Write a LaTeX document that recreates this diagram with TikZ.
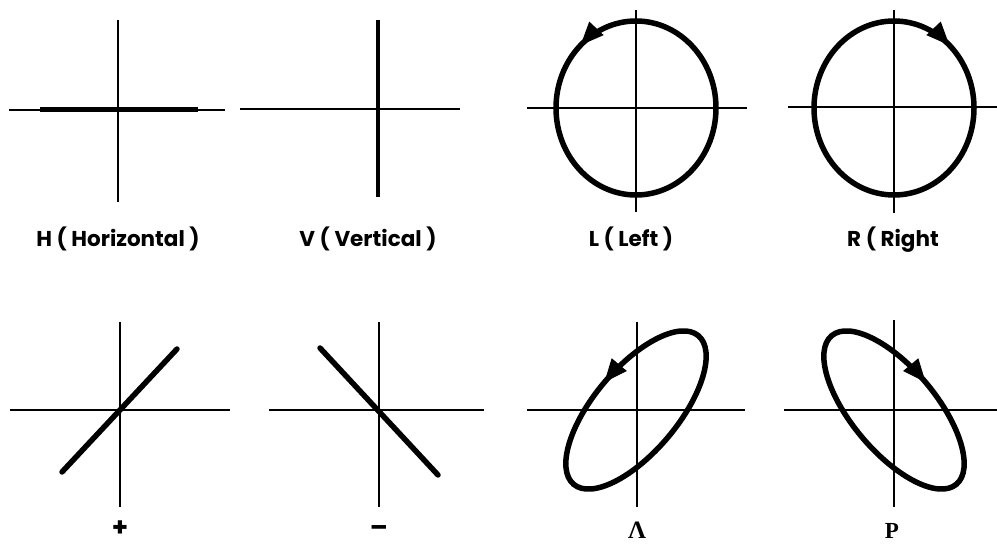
\documentclass[tikz,border=0pt]{standalone}
\usepackage{fontspec}
\setmainfont{Poppins}
\newfontfamily\serifb{Liberation Serif}
\usetikzlibrary{arrows.meta,decorations.markings}
\begin{document}
\begin{tikzpicture}[x=1pt,y=1pt,
  axis/.style={line width=2.3pt},
  heavy/.style={line width=5.5pt},
  lbl/.style={font=\fontsize{21.5}{24}\selectfont\bfseries, anchor=base, inner sep=0pt},
  sign/.style={font=\fontsize{26}{28}\selectfont\bfseries, anchor=base, inner sep=0pt, text depth=0pt},
  glyph/.style={font=\fontsize{23}{25}\selectfont\serifb\bfseries, anchor=base, inner sep=0pt, text depth=0pt},
  arrowccw/.style={postaction={decorate},decoration={markings,mark=at position #1 with {\arrow{Triangle[length=24pt,width=18pt]}}}},
  arrowcw/.style={postaction={decorate},decoration={markings,mark=at position #1 with {\arrowreversed{Triangle[length=24pt,width=18pt]}}}}]
\useasboundingbox (0,0) rectangle (997,546);
% ---- H
\draw[axis] (118,526) -- (118,344);
\draw[axis] (9,436) -- (225,436);
\draw[line width=5pt] (40,436) -- (198,436);
\node[lbl] (lH) at (118,299) {H ( Horizontal )};
% ---- V
\draw[axis] (240,437) -- (460,437);
\draw[line width=4.5pt] (378,526) -- (378,349);
\node[lbl] (lV) at (368,299) {V ( Vertical )};
% ---- L
\draw[axis] (636,536) -- (636,334);
\draw[axis] (527,438) -- (747,438);
\draw[heavy, arrowccw=0.37] (636,438) ellipse [x radius=80, y radius=87];
\node[lbl] (lL) at (631,299) {L ( Left )};
% ---- R
\draw[axis] (894,536) -- (894,333);
\draw[axis] (788,439) -- (997,439);
\draw[heavy, arrowcw=0.13] (894,438) ellipse [x radius=80, y radius=87];
\node[lbl] (lR) at (893,299) {R ( Right};
% ---- +
\draw[axis] (120,224) -- (120,39);
\draw[axis] (10,136) -- (230,136);
\draw[heavy, line cap=round] (62,74) -- (177,197);
\node[sign] (lP) at (120,9) {+};
% ---- -
\draw[axis] (379,224) -- (379,39);
\draw[axis] (269,136) -- (484,136);
\draw[heavy, line cap=round] (320,198) -- (438,71);
\node[sign] (lM) at (379,9) {–};
% ---- Lambda
\draw[axis] (637,224) -- (637,39);
\draw[axis] (527,136) -- (745,136);
\draw[heavy, arrowccw=0.25, rotate around={50:(636,136)}] (636,136) ellipse [x radius=97, y radius=42];
\node[glyph, font=\fontsize{25}{27}\selectfont\serifb\bfseries] (lA) at (637,7) {Λ};
% ---- P
\draw[axis] (894,226) -- (894,39);
\draw[axis] (784,136) -- (997,136);
\draw[heavy, arrowcw=0.25, rotate around={-50:(894,136)}] (894,136) ellipse [x radius=97, y radius=42];
\node[glyph] (lPP) at (892,7) {P};
\end{tikzpicture}
\end{document}
